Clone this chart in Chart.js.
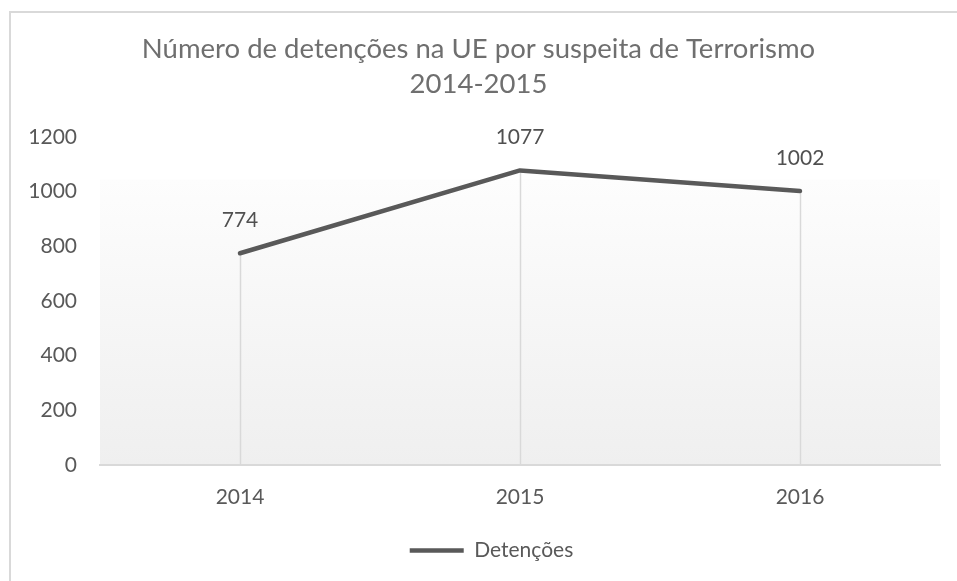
<!DOCTYPE html>
<html>
<head>
<meta charset="utf-8">
<script src="https://cdn.jsdelivr.net/npm/chart.js@4/dist/chart.umd.min.js"></script>
<style>
  html, body { margin: 0; padding: 0; background: #ffffff; }
  #wrap { width: 957px; height: 581px; }
</style>
</head>
<body>
<div id="wrap"><canvas id="c" width="957" height="581"></canvas></div>
<script>
const categories = ['2014', '2015', '2016'];
const detencoes = [774, 1077, 1002];
const yTicks = [0, 200, 400, 600, 800, 1000, 1200];
const titleLines = ['Número de detenções na UE por suspeita de Terrorismo', '2014-2015'];
const seriesName = 'Detenções';

const FONT = 'Lato, "Open Sans", sans-serif';

const framePlugin = {
  id: 'frame',
  afterLayout(chart) {
    if (chart.legend) {
      chart.legend.left += 13;
      chart.legend.right += 13;
    }
  },
  beforeDraw(chart) {
    const ctx = chart.ctx;
    const a = chart.chartArea;
    ctx.save();
    ctx.strokeStyle = '#d9d9d9';
    ctx.lineWidth = 2;
    ctx.strokeRect(10, 12, 1200, 1200);
    // plot-area gradient
    const top = a.top + (a.bottom - a.top) * 0.13;
    const g = ctx.createLinearGradient(0, top, 0, a.bottom);
    g.addColorStop(0, '#fdfdfd');
    g.addColorStop(1, '#efefef');
    ctx.fillStyle = g;
    ctx.fillRect(a.left, top, a.right - a.left, a.bottom - top);
    ctx.restore();
  },
  beforeDatasetsDraw(chart) {
    const ctx = chart.ctx;
    const meta = chart.getDatasetMeta(0);
    const bottom = chart.chartArea.bottom;
    ctx.save();
    ctx.strokeStyle = '#d9d9d9';
    ctx.lineWidth = 1.5;
    meta.data.forEach(p => {
      ctx.beginPath();
      ctx.moveTo(Math.round(p.x) + 0.5, p.y);
      ctx.lineTo(Math.round(p.x) + 0.5, bottom);
      ctx.stroke();
    });
    ctx.restore();
  },
  afterDatasetsDraw(chart) {
    const ctx = chart.ctx;
    const meta = chart.getDatasetMeta(0);
    const data = chart.data.datasets[0].data;
    ctx.save();
    ctx.fillStyle = '#505050';
    ctx.font = '21px ' + FONT;
    ctx.textAlign = 'center';
    ctx.textBaseline = 'middle';
    meta.data.forEach((p, i) => {
      ctx.fillText(String(data[i]), p.x, p.y - 33);
    });
    ctx.restore();
  }
};

new Chart(document.getElementById('c'), {
  type: 'line',
  data: {
    labels: categories,
    datasets: [{
      label: seriesName,
      data: detencoes,
      borderColor: '#595959',
      backgroundColor: '#595959',
      borderWidth: 4.5,
      borderCapStyle: 'round',
      borderJoinStyle: 'round',
      pointRadius: 0,
      pointHoverRadius: 0,
      tension: 0,
      fill: false
    }]
  },
  options: {
    responsive: false,
    animation: false,
    events: [],
    layout: { padding: { left: 17, right: 17, top: 0, bottom: 10 } },
    plugins: {
      tooltip: { enabled: false },
      title: {
        display: true,
        text: titleLines,
        color: '#6f6f6f',
        font: { family: FONT, size: 27.5, weight: 'normal', lineHeight: 1.27 },
        padding: { top: 32, bottom: 35 }
      },
      legend: {
        display: true,
        position: 'bottom',
        labels: {
          usePointStyle: true,
          pointStyle: 'line',
          pointStyleWidth: 54,
          color: '#595959',
          font: { family: FONT, size: 21 },
          padding: 10
        }
      }
    },
    scales: {
      x: {
        type: 'category',
        offset: true,
        grid: { display: false, drawTicks: false },
        border: { display: true, color: '#d9d9d9', width: 2 },
        ticks: { color: '#595959', font: { family: FONT, size: 21 }, padding: 20 }
      },
      y: {
        min: 0,
        max: 1200,
        afterBuildTicks(scale) { scale.ticks = yTicks.map(v => ({ value: v })); },
        afterFit(scale) { scale.width = 83; },
        grid: { display: false, drawTicks: false },
        border: { display: false },
        ticks: {
          color: '#595959',
          font: { family: FONT, size: 21 },
          padding: 23,
          callback: (v) => String(v)
        }
      }
    }
  },
  plugins: [framePlugin]
});
</script>
</body>
</html>
